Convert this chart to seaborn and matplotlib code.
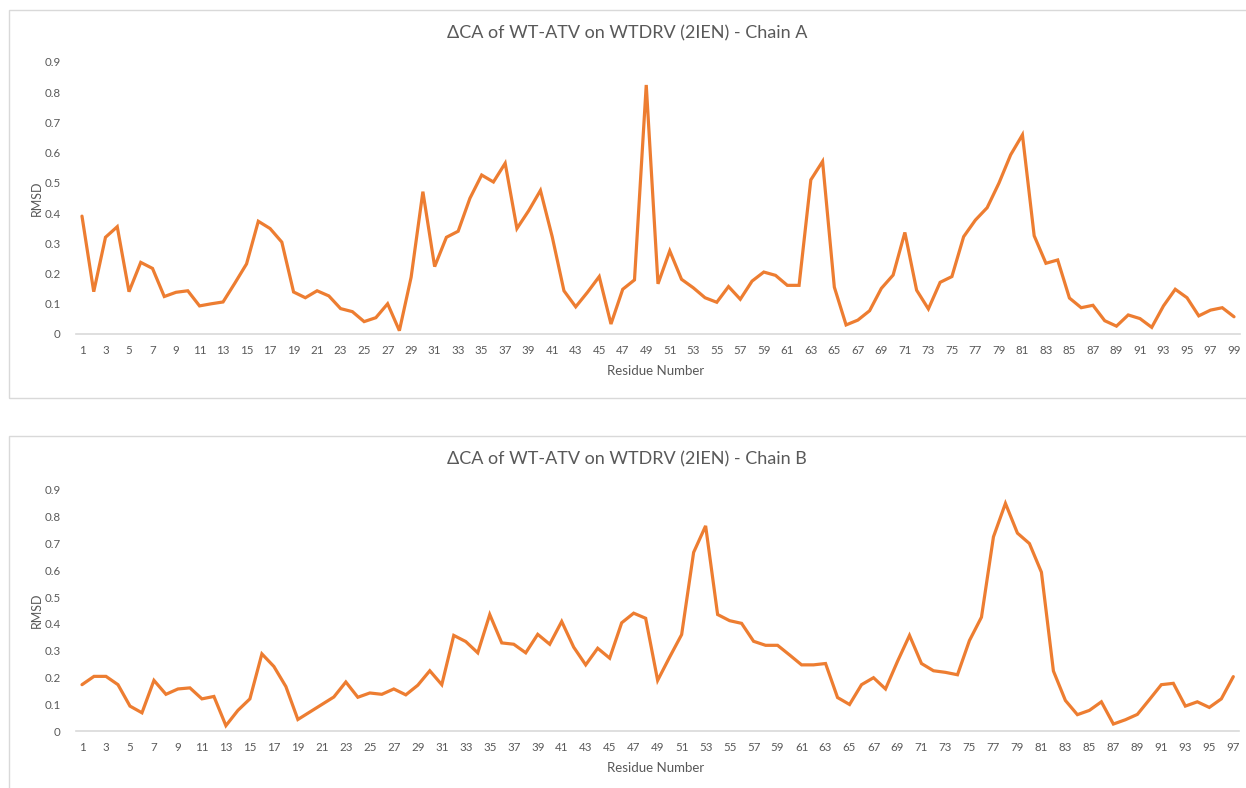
import numpy as np
import pandas as pd
import seaborn as sns
import matplotlib
matplotlib.use("Agg")
import matplotlib.pyplot as plt
from matplotlib.patches import Rectangle
from matplotlib.ticker import FuncFormatter

# Per-residue CA RMSD values, chain A (residues 1-99)
rmsd_chain_a = [
    0.39, 0.14, 0.32, 0.355, 0.14, 0.237, 0.217, 0.124, 0.138, 0.143,
    0.093, 0.10, 0.106, 0.168, 0.232, 0.373, 0.349, 0.304, 0.139, 0.12,
    0.143, 0.126, 0.084, 0.074, 0.041, 0.054, 0.10, 0.011, 0.188, 0.471,
    0.223, 0.32, 0.34, 0.449, 0.526, 0.503, 0.565, 0.349, 0.408, 0.475,
    0.322, 0.143, 0.09, 0.138, 0.19, 0.033, 0.148, 0.179, 0.824, 0.166,
    0.275, 0.181, 0.153, 0.12, 0.105, 0.157, 0.115, 0.175, 0.205, 0.194,
    0.161, 0.161, 0.51, 0.571, 0.155, 0.03, 0.046, 0.077, 0.151, 0.195,
    0.336, 0.145, 0.083, 0.171, 0.19, 0.322, 0.377, 0.418, 0.499, 0.593,
    0.659, 0.325, 0.234, 0.245, 0.119, 0.087, 0.095, 0.044, 0.026, 0.063,
    0.051, 0.022, 0.093, 0.148, 0.12, 0.06, 0.079, 0.087, 0.057,
]

# Per-residue CA RMSD values, chain B (residues 1-97)
rmsd_chain_b = [
    0.173, 0.204, 0.204, 0.173, 0.093, 0.068, 0.189, 0.137, 0.157, 0.161,
    0.12, 0.129, 0.02, 0.077, 0.12, 0.288, 0.241, 0.166, 0.043, 0.071,
    0.099, 0.127, 0.183, 0.126, 0.142, 0.137, 0.157, 0.135, 0.171, 0.225,
    0.173, 0.357, 0.334, 0.292, 0.435, 0.329, 0.324, 0.292, 0.361, 0.324,
    0.409, 0.313, 0.247, 0.309, 0.272, 0.404, 0.44, 0.421, 0.189, 0.276,
    0.36, 0.667, 0.766, 0.435, 0.412, 0.402, 0.335, 0.32, 0.32, 0.284,
    0.247, 0.247, 0.252, 0.125, 0.099, 0.173, 0.199, 0.157, 0.26, 0.357,
    0.252, 0.225, 0.219, 0.21, 0.338, 0.425, 0.725, 0.85, 0.739, 0.70,
    0.593, 0.224, 0.114, 0.061, 0.077, 0.109, 0.026, 0.042, 0.062, 0.117,
    0.173, 0.178, 0.093, 0.109, 0.088, 0.12, 0.203,
]

titles = ["\u0394CA of WT-ATV on WTDRV (2IEN) - Chain A",
          "\u0394CA of WT-ATV on WTDRV (2IEN) - Chain B"]
y_ticks = [0, 0.1, 0.2, 0.3, 0.4, 0.5, 0.6, 0.7, 0.8, 0.9]
x_label = "Residue Number"
y_label = "RMSD"

sns.set_theme(style="white")
plt.rcParams["font.family"] = ["Lato", "DejaVu Sans"]

W, H = 1246, 788
fig = plt.figure(figsize=(W / 100, H / 100), dpi=100)
fig.patch.set_facecolor("white")

TEXT = "#595959"
LINE = "#ED7D31"
FRAME = "#D9D9D9"


def fx(px):
    return px / W


def fy(py):
    return 1 - py / H


# Chart frames
for (x0, y0, x1, y1) in [(9, 10, 1252, 398), (9, 436, 1252, 796)]:
    fig.add_artist(Rectangle((fx(x0), fy(y1)), fx(x1 - x0), (y1 - y0) / H,
                             transform=fig.transFigure, fill=False,
                             ec=FRAME, lw=1.0, zorder=0))

# plot area pixel boxes: left, right, y of 0, y of 0.9
boxes = [(76.1, 1239.9, 334, 62), (76.0, 1239.3, 731, 490)]
series = [rmsd_chain_a, rmsd_chain_b]
title_y = [33, 459]
xlabel_y = [371, 768]

for i, (vals, box) in enumerate(zip(series, boxes)):
    l, r, yb, yt = box
    ax = fig.add_axes([fx(l), fy(yb), fx(r - l), (yb - yt) / H])
    n = len(vals)
    df = pd.DataFrame({"residue": np.arange(1, n + 1), "rmsd": vals})
    sns.lineplot(data=df, x="residue", y="rmsd", ax=ax, color=LINE,
                 linewidth=2.3, solid_joinstyle="miter")
    ax.set_xlim(0.5, n + 0.5)
    ax.set_ylim(0, 0.9)
    ax.set_xticks(np.arange(1, n + 1, 2))
    ax.set_xticklabels([str(v) for v in range(1, n + 1, 2)])
    ax.set_yticks(y_ticks)
    ax.yaxis.set_major_formatter(FuncFormatter(lambda v, p: f"{v:g}"))
    ax.tick_params(axis="both", length=0, labelsize=8.3, colors=TEXT)
    ax.tick_params(axis="x", pad=8)
    ax.tick_params(axis="y", pad=11)
    for s in ["top", "right", "left"]:
        ax.spines[s].set_visible(False)
    ax.spines["bottom"].set_color(FRAME)
    ax.spines["bottom"].set_linewidth(1.2)
    ax.set_facecolor("none")
    ax.grid(False)
    ax.set_xlabel("")
    ax.set_ylabel("")
    fig.text(fx(37), fy((yb + yt) / 2), y_label, rotation=90, ha="center",
             va="center", fontsize=9, color=TEXT)
    fig.text(fx(656), fy(xlabel_y[i]), x_label, ha="center", va="center",
             fontsize=9.5, color=TEXT)
    fig.text(fx(627), fy(title_y[i]), titles[i], ha="center", va="center",
             fontsize=13, color=TEXT)

fig.savefig("out.png", dpi=100)
